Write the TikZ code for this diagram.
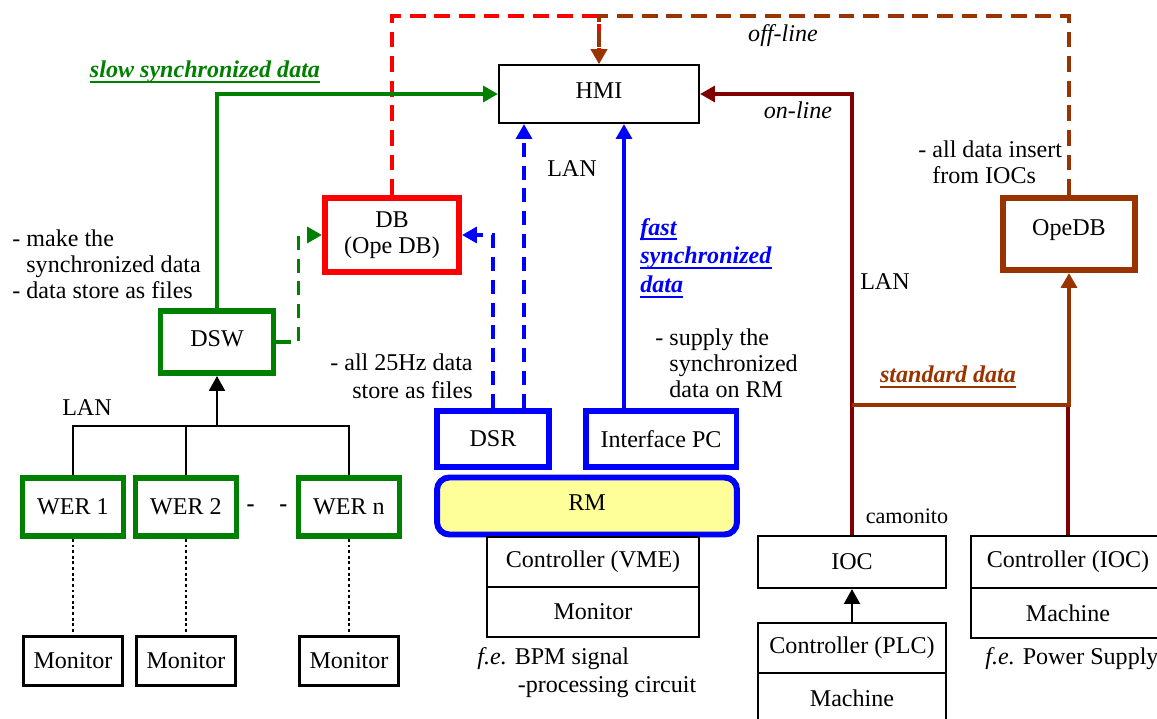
\documentclass[tikz,border=0pt]{standalone}
\usepackage{fontspec}
\setmainfont{Liberation Serif}
\usetikzlibrary{arrows.meta}

\definecolor{dgreen}{RGB}{0,128,0}
\definecolor{dred}{RGB}{255,0,0}
\definecolor{dblue}{RGB}{0,0,255}
\definecolor{dbrown}{RGB}{153,51,0}
\definecolor{dmaroon}{RGB}{128,0,0}
\definecolor{dyellow}{RGB}{255,255,153}

% thick underline
\newcommand{\thul}[1]{\setbox0\hbox{#1}\rlap{\copy0}\rule[-3pt]{\wd0}{1.3pt}}

\begin{document}
\begin{tikzpicture}[x=0.02cm, y=-0.02cm,
    font=\fontsize{13.7}{14.8}\selectfont,
    >={Triangle[length=8.5pt,width=9pt]},
    box/.style={draw, line width=1.2pt, inner sep=0pt, align=center},
    thickbox/.style={draw=#1, line width=3.4pt, inner sep=0pt, align=center},
    wire/.style={draw=#1, line width=2.1pt},
    dashwire/.style={draw=#1, line width=2.1pt, dash pattern=on 9pt off 5pt},
    txt/.style={inner sep=0pt},
  ]
  \useasboundingbox (0,0) rectangle (1157,719);

  % Centre
  \node[box, minimum width=4.0cm, minimum height=1.16cm] (hmi) at (599,94) {\raisebox{3.4pt}{HMI}};
  \node[thickbox=dred, minimum width=2.68cm, minimum height=1.48cm] (db) at (392,235) {DB\\(Ope DB)};
  \node[thickbox=dbrown, minimum width=2.64cm, minimum height=1.44cm] (opedb) at (1069,234) {\raisebox{6.8pt}{OpeDB}};

  % Left: DSW and WERs
  \node[thickbox=dgreen, minimum width=2.26cm, minimum height=1.24cm] (dsw) at (217,342) {\raisebox{4pt}{DSW}};
  \node[thickbox=dgreen, minimum width=2.02cm, minimum height=1.16cm] (wer1) at (73,507) {WER 1};
  \node[thickbox=dgreen, minimum width=2.02cm, minimum height=1.16cm] (wer2) at (186,507) {WER 2};
  \node[thickbox=dgreen, minimum width=2.02cm, minimum height=1.16cm] (wern) at (349,507) {WER n};
  \node[box, minimum width=1.98cm, minimum height=0.98cm] (mon1) at (73,661) {Monitor};
  \node[box, minimum width=1.98cm, minimum height=0.98cm] (mon2) at (186,661) {Monitor};
  \node[box, minimum width=1.98cm, minimum height=0.98cm] (mon3) at (349,661) {Monitor};

  % RM group
  \node[thickbox=dblue, minimum width=2.24cm, minimum height=1.12cm] (dsr) at (493,439) {DSR};
  \node[thickbox=dblue, minimum width=3.02cm, minimum height=1.12cm] (ipc) at (661,439) {Interface PC};
  \node[thickbox=dblue, fill=dyellow, rounded corners=7pt, minimum width=6.0cm, minimum height=1.14cm] (rm) at (587,506) {\raisebox{3.4pt}{RM}};
  \node[box, minimum width=4.24cm, minimum height=1.0cm] (vme) at (593,562) {Controller (VME)};
  \node[box, minimum width=4.24cm, minimum height=1.0cm] (mon4) at (593,612) {Monitor};

  % IOC group
  \node[box, minimum width=3.76cm, minimum height=1.04cm] (ioc) at (852,562) {IOC};
  \node[box, minimum width=3.76cm, minimum height=1.0cm] (plc) at (852,648) {Controller (PLC)};
  \node[box, minimum width=3.76cm, minimum height=1.0cm] (macha) at (852,698) {Machine};
  \node[box, minimum width=3.88cm, minimum height=1.04cm] (cioc) at (1068,562) {Controller (IOC)};
  \node[box, minimum width=3.88cm, minimum height=1.0cm] (machb) at (1068,613) {Machine};

  \coordinate (top) at (599,16);
  \coordinate (bus) at (217,426);
  \coordinate (dsrtop) at (524,408);
  \coordinate (ipctop) at (624,408);
  \coordinate (std) at (852,405);

  % off-line
  \draw[dashwire=dred, ->] (db.north) |- (top) -- (hmi.north);
  \draw[dashwire=dbrown, ->] (opedb.north) |- (top) -- (hmi.north);

  % slow data
  \draw[wire=dgreen, ->] (dsw.north) |- (hmi.west);
  \draw[dashwire=dgreen, dash pattern=on 8pt off 5pt, ->] (dsw.east) -- ++(22,0) |- (db.west);

  % fast data
  \draw[dashwire=dblue, dash pattern=on 8pt off 5pt, ->] (dsr.north) |- (db.east);
  \draw[dashwire=dblue, dash pattern=on 8pt off 5pt, ->] (dsrtop) -- (dsrtop |- hmi.south);
  \draw[wire=dblue, ->] (ipctop) -- (ipctop |- hmi.south);

  % on-line, standard data
  \draw[wire=dmaroon, ->] (ioc.north) |- (hmi.east);
  \draw[wire=dmaroon] (cioc.north) -- (cioc.north |- std);
  \draw[wire=dbrown, ->] (std) -| (opedb.south);

  % LAN of WERs
  \draw[line width=1.5pt] (wer1.north) |- (bus) -| (wern.north);
  \draw[line width=1.5pt] (wer2.north) -- (wer2.north |- bus);
  \draw[line width=1.5pt, ->] (bus) -- (dsw.south);
  \draw[line width=1.4pt, dash pattern=on 1.6pt off 1.6pt] (wer1.south) -- (mon1.north);
  \draw[line width=1.4pt, dash pattern=on 1.6pt off 1.6pt] (wer2.south) -- (mon2.north);
  \draw[line width=1.4pt, dash pattern=on 1.6pt off 1.6pt] (wern.south) -- (mon3.north);
  \draw[line width=1.5pt, ->] (plc.north) -- (ioc.south);

  % Labels
  \node[txt, text=dgreen] (slowlbl) at (205,72) {\thul{\textbf{\textit{slow synchronized data}}}};
  \node[txt] (offlbl) at (783,36) {\textit{off-line}};
  \node[txt] (onlbl) at (798,110) {\textit{on-line}};
  \node[txt] (lanb) at (572,169) {LAN};
  \node[txt] (lanr) at (885,282) {LAN};
  \node[txt] (lanw) at (87,408) {LAN};
  \node[txt, text=dblue, anchor=west, align=left] (fastlbl) at (640,258)
    {\thul{\textbf{\textit{fast}}}\\[1.6pt]\thul{\textbf{\textit{synchronized}}}\\[1.6pt]\thul{\textbf{\textit{data}}}};
  \node[txt, text=dbrown] (stdlbl) at (948,377) {\thul{\textbf{\textit{standard data}}}};
  \node[txt, anchor=west, align=left] (insertlbl) at (918,162) {- all data insert\\\hphantom{- }from IOCs};
  \node[txt, anchor=west, align=left] (dswlbl) at (12,264)
    {- make the\\\hphantom{- }synchronized data\\- data store as files};
  \node[txt, anchor=east, align=right] (dsrlbl) at (473,376) {- all 25Hz data\\[1pt]store as files};
  \node[txt, anchor=west, align=left] (ipclbl) at (655,363)
    {- supply the\\\hphantom{- }synchronized\\\hphantom{- }data on RM};
  \node[txt, font=\fontsize{12.6}{14}\selectfont] (camlbl) at (907,516) {camonito};
  \node[txt] (dots) at (267,508) {\textbf{-}\hspace{14pt}\textbf{-}};
  \node[txt, anchor=west, align=left] (bpmlbl) at (477,673)
    {\textit{f.e.} BPM signal\\[1pt]\hspace{23pt}-processing circuit};
  \node[txt, anchor=west] (pslbl) at (985,659) {\textit{f.e.} Power Supply};
\end{tikzpicture}
\end{document}
